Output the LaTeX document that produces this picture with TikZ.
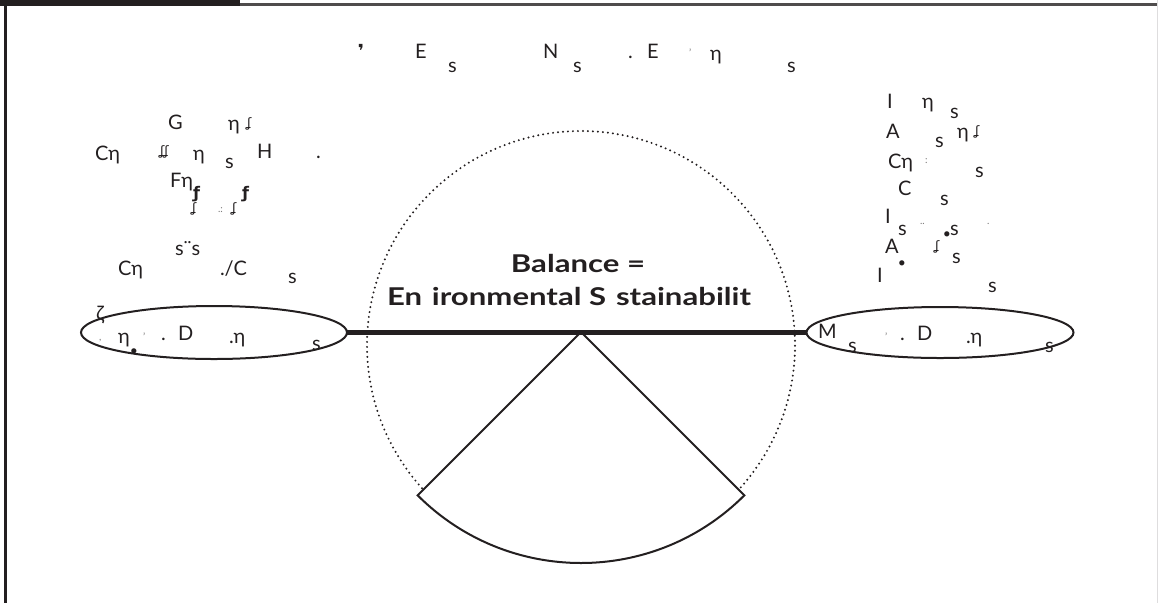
\documentclass[tikz,border=0pt]{standalone}
\usepackage{fontspec}
\usepackage{graphicx}
\setmainfont{Lato}
\newfontfamily\wide[FakeStretch=1.27]{Lato}
\newfontfamily\dv{DejaVu Sans}
\usetikzlibrary{shapes.geometric,calc}
\definecolor{ink}{HTML}{231F20}
\begin{document}
\begin{tikzpicture}[x=1pt,y=-1pt,
  every node/.style={inner sep=0pt,outer sep=0pt,text=ink},
  g/.style={font=\fontsize{20}{24}\selectfont,anchor=base west},
  gb/.style={font=\wide\fontsize{24.5}{28}\selectfont\bfseries,anchor=base},
  odd/.style={font=\dv\fontsize{13}{15}\selectfont,anchor=base west},
  faint/.style={font=\fontsize{10}{12}\selectfont,anchor=base west,text=ink!60},
  ell/.style={ellipse,draw=ink,line width=2pt,inner sep=0pt},
  beam/.style={draw=ink,line width=5pt},
  wedge/.style={draw=ink,line width=2pt},
  dots/.style={draw=ink,line width=2.2pt,line cap=round,dash pattern=on 0pt off 5pt}]
\useasboundingbox (0,0) rectangle (1158,603);
% frame
\fill[ink] (0,0) rectangle (240,6);
\fill[ink!80] (240,3) rectangle (1158,5.5);
\fill[ink] (4,0) rectangle (6.8,603);
\fill[ink!15] (1156.5,0) rectangle (1158,603);
% scale
\coordinate (O) at (581,345);
\coordinate (P) at (581,332);
\draw[dots] ($(O)+(138:214)$) arc[start angle=138,end angle=402,radius=214];
\draw[wedge] (P) -- ++(135:231) arc[start angle=135,end angle=45,radius=231] -- cycle;
\node[ell,minimum width=266pt,minimum height=53pt] (L) at (214,332.5) {};
\node[ell,minimum width=267pt,minimum height=51pt] (R) at (940,332.5) {};
\draw[beam] (L.east) -- (R.west);
% centre text
\node[gb] (bal1) at (578,272) {Balance =};
\node[gb] (bal2) at (569,305) {En\hspace{0.4em}ironmental S\hspace{0.4em}stainabilit};
% title
\node[font=\dv\fontsize{18}{20}\selectfont\bfseries] (t0) at (361,51) {❜};
\node[g] (t1) at (415,58) {E};
\node[g] (t2) at (448,72) {s};
\node[g] (t3) at (543,58) {N};
\node[g] (t4) at (573,72) {s};
\node[g] (t5) at (628,58) {.};
\node[g] (t6) at (647,58) {E};
\node[faint] (t7) at (689,56) {'};
\node[g] (t8) at (710,60) {η};
\node[g] (t9) at (787,72) {s};
% left block
\node[g] (a1) at (168,129) {G};
\node[g] (a2) at (228,130) {η};
\node[odd] (a3) at (247,127) {ʆ};
\node[g] (a4) at (95,160) {Cη};
\node[odd] (a5) at (160,155) {ʆʆ};
\node[g] (a6) at (193,160) {η};
\node[g] (a7) at (225,168) {s};
\node[g] (a8) at (257,158) {H};
\node[g] (a9) at (316,158) {.};
\node[g] (a10) at (170,187) {Fη};
\node[odd,font=\dv\fontsize{16}{18}\selectfont\bfseries] (a11) at (193,198) {ƒ};
\node[odd,font=\dv\fontsize{16}{18}\selectfont\bfseries] (a12) at (242,198) {ƒ};
\node[odd] (a13) at (192,212) {ʆ};
\node[faint] (a14) at (218,212) {.:};
\node[odd] (a15) at (232,212) {ʆ};
\node[g] (a16) at (175,255) {s¨s};
\node[g] (a17) at (118,275) {Cη};
\node[g] (a18) at (220,275) {./C};
\node[g] (a19) at (288,283) {s};
% right block
\node[g] (b1) at (887,108) {I};
\node[g] (b2) at (922,108) {η};
\node[g] (b3) at (950,118) {s};
\node[g] (b4) at (886,138) {A};
\node[g] (b5) at (935,147) {s};
\node[g] (b6) at (957,138) {η};
\node[odd] (b7) at (975,135) {ʆ};
\node[g] (b8) at (888,168) {Cη};
\node[faint] (b9) at (925,163) {:};
\node[g] (b10) at (975,177) {s};
\node[g] (b11) at (898,195) {C};
\node[g] (b12) at (940,205) {s};
\node[g] (b13) at (885,223) {I};
\node[g] (b14) at (898,235) {s};
\node[faint] (b15) at (920,224) {..};
\node[g] (b16) at (950,235) {s};
\node[font=\fontsize{14}{16}\selectfont] (b17) at (947,235) {•};
\node[faint] (b18) at (987,224) {.};
\node[g] (b19) at (885,253) {A};
\node[odd] (b20) at (935,250) {ʆ};
\node[g] (b21) at (952,263) {s};
\node[font=\fontsize{14}{16}\selectfont] (b22) at (902,264) {•};
\node[g] (b23) at (877,282) {I};
\node[g] (b24) at (988,292) {s};
% left ellipse text
\node[g] (c1) at (96,320) {ζ};
\node[faint] (c2) at (99,340) {,};
\node[g] (c3) at (118,343) {η};
\node[faint] (c4) at (143,340) {'};
\node[g] (c5) at (161,340) {.};
\node[g] (c6) at (178,340) {D};
\node[g] (c7) at (229,343) {.η};
\node[g] (c8) at (312,350) {s};
\node[font=\fontsize{14}{16}\selectfont] (c9) at (134,352) {•};
% right ellipse text
\node[g] (d1) at (818,338) {M};
\node[g] (d2) at (848,352) {s};
\node[faint] (d3) at (885,340) {'};
\node[g] (d4) at (900,340) {.};
\node[g] (d5) at (917,340) {D};
\node[g] (d6) at (966,343) {.η};
\node[g] (d7) at (1045,352) {s};
\end{tikzpicture}
\end{document}
